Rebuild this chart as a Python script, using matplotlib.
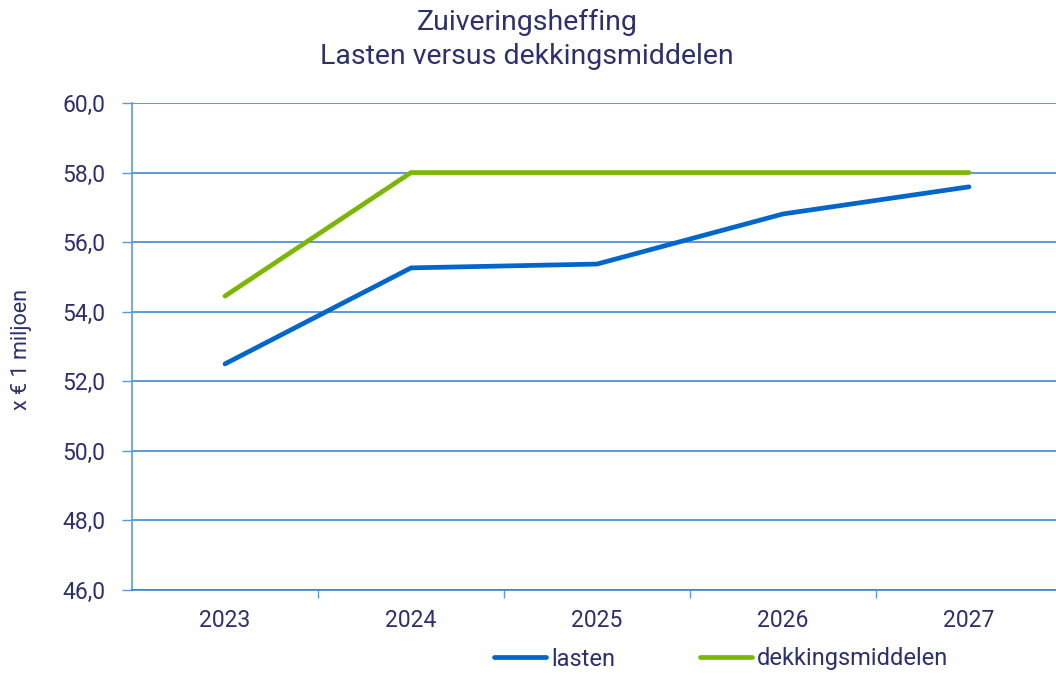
import matplotlib
matplotlib.use("Agg")
import matplotlib.pyplot as plt
from matplotlib.ticker import FuncFormatter, FixedLocator

years = ["2023", "2024", "2025", "2026", "2027"]
lasten = [52.5, 55.26, 55.37, 56.81, 57.59]
dekkingsmiddelen = [54.45, 58.0, 58.0, 58.0, 58.0]
y_ticks = [46, 48, 50, 52, 54, 56, 58, 60]

navy = "#2B3070"
blue = "#0066CC"
green = "#7AB800"
grid_c = "#2F7FD0"
axis_c = "#5A9BDC"

plt.rcParams['font.family'] = ['Roboto', 'DejaVu Sans']

fig = plt.figure(figsize=(10.56, 6.75), dpi=100)
W, H = 1056, 675
ax = fig.add_axes([132 / W, (H - 590) / H, 930 / W, 487 / H])

x = list(range(len(years)))
ax.plot(x, lasten, color=blue, lw=3.4, solid_capstyle='round', label="lasten", zorder=3)
ax.plot(x, dekkingsmiddelen, color=green, lw=3.4, solid_capstyle='round', label="dekkingsmiddelen", zorder=3)

ax.set_xlim(-0.5, 4.5)
ax.set_ylim(46, 60)
ax.set_yticks(y_ticks)
ax.yaxis.set_major_formatter(FuncFormatter(lambda v, p: f"{v:.1f}".replace(".", ",")))
ax.grid(axis='y', color=grid_c, lw=1.1)
ax.set_axisbelow(True)

ax.set_xticks(x)
ax.set_xticklabels(years)
ax.xaxis.set_minor_locator(FixedLocator([0.5, 1.5, 2.5, 3.5]))
ax.tick_params(axis='x', which='major', length=0, pad=14, labelsize=16.5, labelcolor=navy)
ax.tick_params(axis='x', which='minor', length=6, color=axis_c, width=1)
ax.tick_params(axis='y', length=7, color=axis_c, width=1, pad=12, labelsize=16.5, labelcolor=navy)

for s in ['top', 'right']:
    ax.spines[s].set_visible(False)
ax.spines['left'].set_color(axis_c)
ax.spines['left'].set_linewidth(1.2)
ax.spines['bottom'].set_color(grid_c)
ax.spines['bottom'].set_linewidth(1.1)

fig.text(22 / W, 1 - 350 / H, "x € 1 miljoen", rotation=90, ha='center', va='center',
         fontsize=15.5, color=navy)
fig.text(527 / W, 1 - 22 / H, "Zuiveringsheffing", ha='center', va='center', fontsize=20.5, color=navy)
fig.text(527 / W, 1 - 57 / H, "Lasten versus dekkingsmiddelen", ha='center', va='center', fontsize=20.5, color=navy)

leg = fig.legend(loc='center', bbox_to_anchor=(721 / W, 1 - 659 / H), ncol=2, frameon=False,
                 fontsize=17, handlelength=2.2, handletextpad=0.2, columnspacing=3.6,
                 borderpad=0, borderaxespad=0)
for t in leg.get_texts():
    t.set_color(navy)

fig.savefig("out.png", dpi=100)
